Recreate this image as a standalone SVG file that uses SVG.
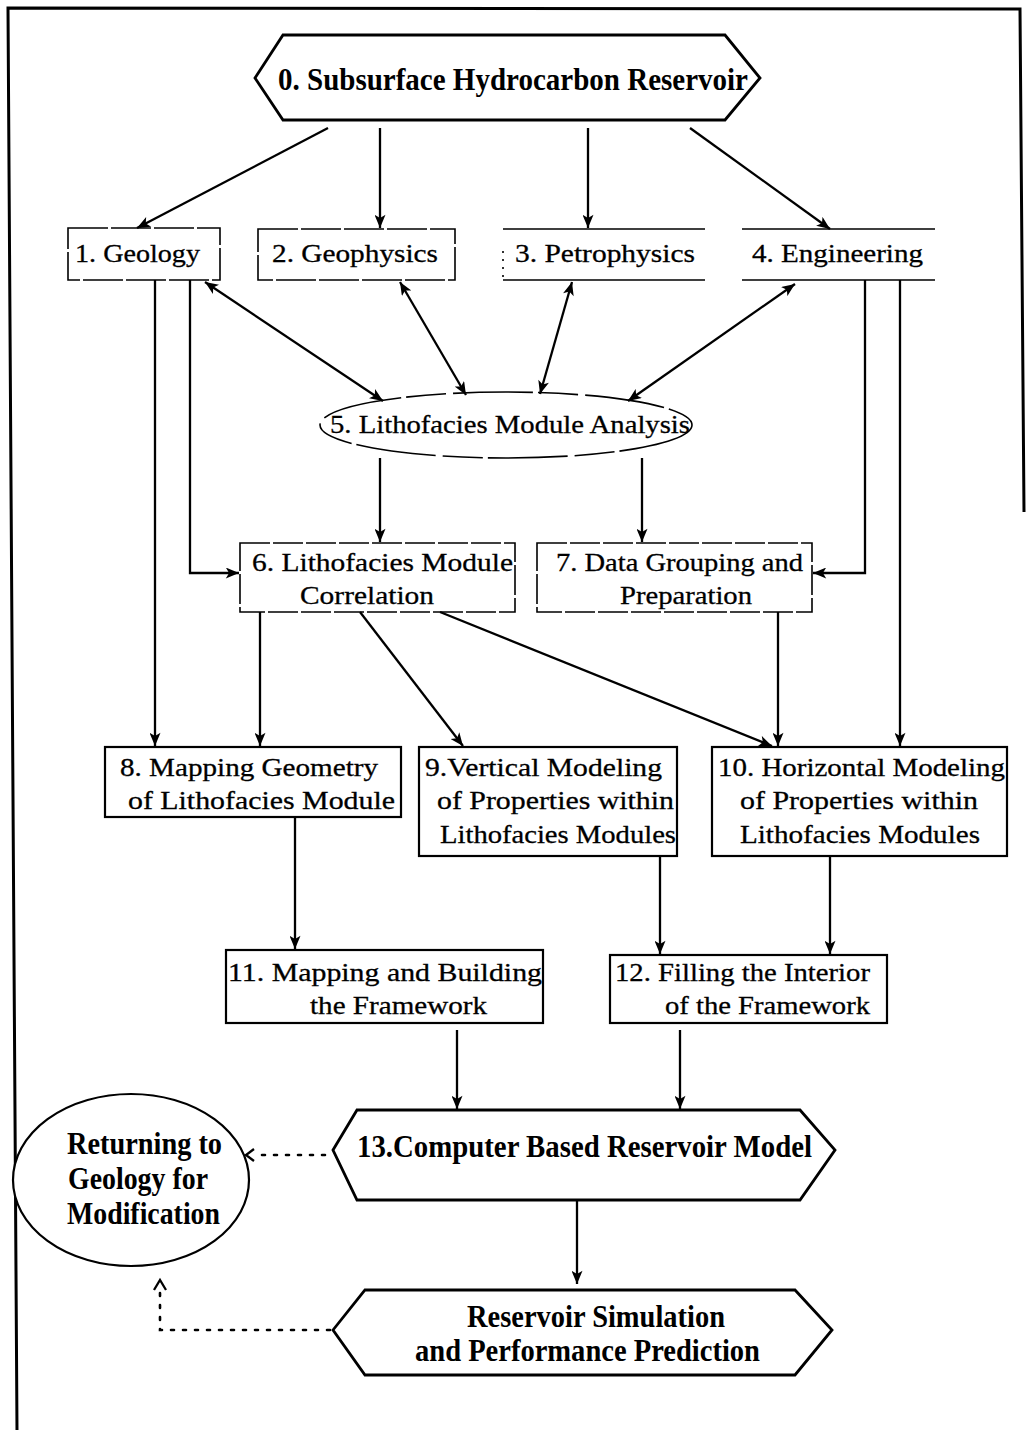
<svg xmlns="http://www.w3.org/2000/svg" width="1027" height="1430" viewBox="0 0 1027 1430">
<defs>
<marker id="ah" viewBox="0 0 12 10" refX="12" refY="5" markerWidth="14" markerHeight="11" markerUnits="userSpaceOnUse" orient="auto-start-reverse"><path d="M0,0 L12,5 L0,10 L3,5 z" fill="#000"/></marker>
</defs>
<style>
.t{font-family:"Liberation Serif","Times New Roman",serif;font-size:26px;fill:#000;stroke:#000;stroke-width:0.3}
.b{font-family:"Liberation Serif","Times New Roman",serif;font-size:31px;font-weight:bold;fill:#000}
.thin{fill:#fff;stroke:#000;stroke-width:1.6}
.box{fill:#fff;stroke:#000;stroke-width:2.2}
.hex{fill:#fff;stroke:#000;stroke-width:2.8}
.c line,.c polyline,.c path{stroke:#000;stroke-width:2.3;fill:none}
.c .a{marker-end:url(#ah)}
.c .bi{marker-start:url(#ah);marker-end:url(#ah)}
.c .d{stroke-dasharray:3 9;stroke-width:2.6;stroke-linecap:round}
</style>
<rect width="1027" height="1430" fill="#fff"/>
<g id="frame" stroke="#000" stroke-width="3" fill="none">
<polyline points="17,1430 8,8 1020,9 1024,512"/>
</g>

<g id="n0">
<polygon class="hex" points="255,78 283,35 725,35 760,78 725,120 283,120"/>
<text class="b" x="278" y="90" textLength="470" lengthAdjust="spacingAndGlyphs">0. Subsurface Hydrocarbon Reservoir</text>
</g>
<g id="n1">
<rect class="thin" x="68" y="228" width="152" height="52" stroke-dasharray="40 3"/>
<text class="t" x="75" y="262" textLength="125" lengthAdjust="spacingAndGlyphs">1. Geology</text>
</g>
<g id="n2">
<rect class="thin" x="258" y="229" width="197" height="51" stroke-dasharray="40 3"/>
<text class="t" x="272" y="262" textLength="166" lengthAdjust="spacingAndGlyphs">2. Geophysics</text>
</g>
<g id="n3">
<rect class="thin" x="503" y="229" width="202" height="51" stroke-dasharray="202 51 202 3 2 6 2 6 2 6 2 30"/>
<text class="t" x="515" y="262" textLength="180" lengthAdjust="spacingAndGlyphs">3.  Petrophysics</text>
</g>
<g id="n4">
<rect class="thin" x="742" y="229" width="193" height="51" stroke-dasharray="193 51 193 51"/>
<text class="t" x="752" y="262" textLength="171" lengthAdjust="spacingAndGlyphs">4. Engineering</text>
</g>
<g id="n5">
<ellipse class="thin" cx="506" cy="425" rx="186" ry="33" stroke-dasharray="80 5 40 7"/>
<text class="t" x="330" y="433" textLength="360" lengthAdjust="spacingAndGlyphs">5. Lithofacies Module Analysis</text>
</g>
<g id="n6">
<rect class="thin" x="240" y="543" width="275" height="69" stroke-dasharray="30 3"/>
<text class="t" x="252" y="571" textLength="261" lengthAdjust="spacingAndGlyphs">6. Lithofacies Module</text>
<text class="t" x="300" y="604" textLength="134" lengthAdjust="spacingAndGlyphs">Correlation</text>
</g>
<g id="n7">
<rect class="thin" x="537" y="543" width="275" height="69" stroke-dasharray="30 3"/>
<text class="t" x="556" y="571" textLength="247" lengthAdjust="spacingAndGlyphs">7. Data Grouping and</text>
<text class="t" x="620" y="604" textLength="132" lengthAdjust="spacingAndGlyphs">Preparation</text>
</g>
<g id="n8">
<rect class="box" x="105" y="747" width="296" height="70"/>
<text class="t" x="120" y="776" textLength="258" lengthAdjust="spacingAndGlyphs">8. Mapping Geometry</text>
<text class="t" x="128" y="809" textLength="267" lengthAdjust="spacingAndGlyphs">of  Lithofacies Module</text>
</g>
<g id="n9">
<rect class="box" x="419" y="747" width="258" height="109"/>
<text class="t" x="425" y="776" textLength="237" lengthAdjust="spacingAndGlyphs">9.Vertical Modeling</text>
<text class="t" x="437" y="809" textLength="237" lengthAdjust="spacingAndGlyphs">of  Properties within</text>
<text class="t" x="440" y="843" textLength="236" lengthAdjust="spacingAndGlyphs">Lithofacies Modules</text>
</g>
<g id="n10">
<rect class="box" x="712" y="747" width="295" height="109"/>
<text class="t" x="718" y="776" textLength="287" lengthAdjust="spacingAndGlyphs">10. Horizontal Modeling</text>
<text class="t" x="740" y="809" textLength="238" lengthAdjust="spacingAndGlyphs">of  Properties within</text>
<text class="t" x="740" y="843" textLength="240" lengthAdjust="spacingAndGlyphs">Lithofacies Modules</text>
</g>
<g id="n11">
<rect class="box" x="226" y="950" width="317" height="73"/>
<text class="t" x="228" y="981" textLength="314" lengthAdjust="spacingAndGlyphs">11. Mapping and Building</text>
<text class="t" x="310" y="1014" textLength="177" lengthAdjust="spacingAndGlyphs">the Framework</text>
</g>
<g id="n12">
<rect class="box" x="610" y="955" width="277" height="68"/>
<text class="t" x="615" y="981" textLength="255" lengthAdjust="spacingAndGlyphs">12. Filling the Interior</text>
<text class="t" x="665" y="1014" textLength="205" lengthAdjust="spacingAndGlyphs">of the Framework</text>
</g>
<g id="n13">
<polygon class="hex" points="333,1150 357,1110 800,1110 835,1150 800,1200 357,1200"/>
<text class="b" x="357" y="1157" textLength="455" lengthAdjust="spacingAndGlyphs">13.Computer Based Reservoir Model</text>
</g>
<g id="n14">
<ellipse class="box" cx="131" cy="1180" rx="118" ry="86" stroke-width="2.5"/>
<text class="b" x="67" y="1154" textLength="155" lengthAdjust="spacingAndGlyphs">Returning to</text>
<text class="b" x="68" y="1189" textLength="140" lengthAdjust="spacingAndGlyphs">Geology for</text>
<text class="b" x="67" y="1224" textLength="153" lengthAdjust="spacingAndGlyphs">Modification</text>
</g>
<g id="n15">
<polygon class="hex" points="333,1330 365,1290 795,1290 832,1330 795,1375 365,1375"/>
<text class="b" x="467" y="1327" textLength="258" lengthAdjust="spacingAndGlyphs">Reservoir Simulation</text>
<text class="b" x="415" y="1361" textLength="345" lengthAdjust="spacingAndGlyphs">and Performance Prediction</text>
</g>

<g id="connectors" class="c">
<line class="a" x1="328" y1="128" x2="137" y2="228"/>
<line class="a" x1="380" y1="128" x2="380" y2="228"/>
<line class="a" x1="588" y1="128" x2="588" y2="228"/>
<line class="a" x1="690" y1="128" x2="830" y2="229"/>
<line class="bi" x1="205" y1="282" x2="383" y2="401"/>
<line class="bi" x1="400" y1="282" x2="466" y2="395"/>
<line class="bi" x1="572" y1="282" x2="540" y2="394"/>
<line class="bi" x1="795" y1="284" x2="628" y2="401"/>
<line class="a" x1="155" y1="280" x2="155" y2="746"/>
<polyline class="a" points="190,280 190,573 239,573"/>
<polyline class="a" points="865,280 865,573 813,573"/>
<line class="a" x1="900" y1="280" x2="900" y2="746"/>
<line class="a" x1="380" y1="458" x2="380" y2="542"/>
<line class="a" x1="642" y1="458" x2="642" y2="542"/>
<line class="a" x1="260" y1="612" x2="260" y2="746"/>
<line class="a" x1="360" y1="612" x2="463" y2="746"/>
<line class="a" x1="440" y1="612" x2="772" y2="746"/>
<line class="a" x1="778" y1="612" x2="778" y2="746"/>
<line class="a" x1="295" y1="817" x2="295" y2="949"/>
<line class="a" x1="660" y1="856" x2="660" y2="954"/>
<line class="a" x1="830" y1="856" x2="830" y2="954"/>
<line class="a" x1="457" y1="1030" x2="457" y2="1109"/>
<line class="a" x1="680" y1="1030" x2="680" y2="1109"/>
<line class="a" x1="577" y1="1200" x2="577" y2="1284"/>
<line class="d" x1="325" y1="1155" x2="258" y2="1155"/>
<path d="M254,1149 L246,1155 L254,1161" stroke-width="2"/>
<polyline class="d" points="330,1330 160,1330 160,1290"/>
<path d="M154,1290 L160,1280 L166,1290" stroke-width="2"/>
</g>
</svg>
